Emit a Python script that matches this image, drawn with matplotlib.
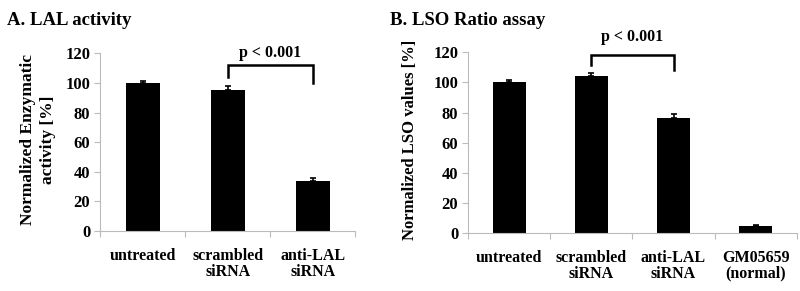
import matplotlib
matplotlib.use("Agg")
import matplotlib.pyplot as plt

plt.rcParams['font.family'] = ['Liberation Serif', 'DejaVu Serif']
plt.rcParams['font.weight'] = 'bold'

cats_a = ["untreated", "scrambled\nsiRNA", "anti-LAL\nsiRNA"]
vals_a = [100, 95, 34]
errs_a = [1.5, 3, 2]

cats_b = ["untreated", "scrambled\nsiRNA", "anti-LAL\nsiRNA", "GM05659\n(normal)"]
vals_b = [100, 104.5, 76.5, 4.5]
errs_b = [1.5, 2, 2.5, 1]

yticks = [0, 20, 40, 60, 80, 100, 120]

fig = plt.figure(figsize=(8, 2.91), dpi=100)
axA = fig.add_axes([0.125, 0.206, 0.319, 0.611])
axB = fig.add_axes([0.585, 0.199, 0.411, 0.621])

def style(ax, cats, vals, errs):
    n = len(cats)
    x = list(range(n))
    ax.bar(x, vals, width=0.4, color='black', zorder=2)
    ax.errorbar(x, vals, yerr=[[0]*n, errs], fmt='none', ecolor='black',
                elinewidth=1.2, capsize=2, capthick=1.2, zorder=3)
    ax.set_xlim(-0.5, n - 0.5)
    ax.set_ylim(0, 120)
    ax.set_yticks(yticks)
    ax.set_xticks(x)
    ax.set_xticklabels(cats, fontsize=11.5, fontweight='bold', linespacing=1.0)
    ax.set_xticks([i - 0.5 for i in range(n + 1)], minor=True)
    ax.tick_params(axis='x', which='major', length=0, pad=12)
    ax.tick_params(axis='x', which='minor', length=4, color='#bbbbbb', width=0.8)
    ax.tick_params(axis='y', length=4, color='#bbbbbb', width=0.8, labelsize=12, pad=3)
    for lab in ax.get_yticklabels():
        lab.set_fontweight('bold')
    for s in ['top', 'right']:
        ax.spines[s].set_visible(False)
    for s in ['left', 'bottom']:
        ax.spines[s].set_color('#bbbbbb')
        ax.spines[s].set_linewidth(0.8)

style(axA, cats_a, vals_a, errs_a)
style(axB, cats_b, vals_b, errs_b)

def bracket(ax, x1, x2, top, l1, l2, ty):
    ax.plot([x1, x1, x2, x2], [l1, top, top, l2], color='black', lw=1.8,
            clip_on=False, zorder=4, solid_joinstyle='miter')
    ax.text((x1 + x2) / 2, ty, "p < 0.001", ha='center', va='center',
            fontsize=11.5, fontweight='bold', clip_on=False)

bracket(axA, 1, 2, 112, 104, 100, 120.5)
bracket(axB, 1, 2, 118, 111.5, 108, 130)

fig.text(0.009, 0.93, "A. LAL activity", fontsize=13.5, fontweight='bold', ha='left', va='center')
fig.text(0.488, 0.93, "B. LSO Ratio assay", fontsize=13.5, fontweight='bold', ha='left', va='center')

fig.text(0.0475, 0.52, "Normalized Enzymatic\nactivity [%]", rotation=90, fontsize=12.5,
         fontweight='bold', ha='center', va='center', linespacing=1.3)
fig.text(0.513, 0.52, "Normalized LSO values [%]", rotation=90, fontsize=12,
         fontweight='bold', ha='center', va='center')

fig.savefig("out.png", dpi=100)
